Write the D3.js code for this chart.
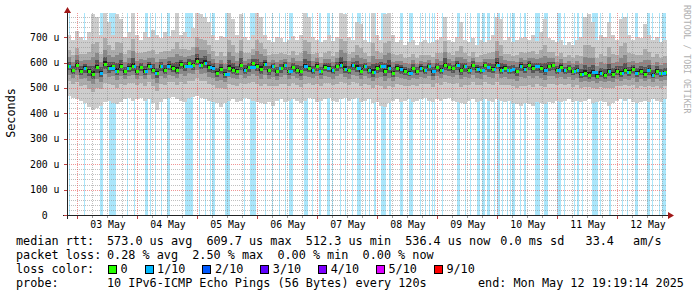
<!DOCTYPE html>
<html><head><meta charset="utf-8">
<script src="https://cdn.jsdelivr.net/npm/d3@7"></script>
<style>body{margin:0;background:#fff} svg{display:block} text{white-space:pre}</style>
</head><body><svg id="c" width="697" height="297"></svg>
<script>
// ---------- data ----------
const startTime = new Date(2025, 4, 2, 20, 0, 0);
const endTime = new Date(2025, 4, 12, 20, 0, 0);
const columnMinutes = 96;
// median rtt per column (microseconds)
const medianRtt = [
585,570,590,568, 580,565,555,582,560, 595,578,586, 568,585,565,580,588,565,
582,566,588,572,558,585,570, 588,578,570,595, 585,598,590,608,592,600,582,
578,560,575,555, 580,572,568,590,572, 582,598,585,575,595,
570,585,565,578,590,566,582,572,565, 585,578,570,588,566, 584,578,570,586,592,
576,570,590,580,568, 585,572,562,578,586,565,578,560,580,575,
568,560,578,566,580, 570,585,565,582,572, 590,582,578,592,570,
585,572,590,576,570, 590,582,576,592,572, 580,570,575,566,588,
576,592,580,585,578,570,586,590,572,584, 570,578,566,572,555,
560,550,562,548,558, 552,566,556,568,558, 570,562,575,558,568, 555,570,552,566,558,562];
// lowest ping per column (microseconds)
const minRtt = [
470,460,455,450, 440,425,415,420,430, 445,450,440, 435,445,455,460,450,455,
460,450,455,440,415,445,455, 460,465,455,450, 445,460,465,470,460,455,450,
445,440,425,440, 450,455,445,450,460, 455,450,445,440,435,
445,430,450,455,445,450,455,450,440, 450,460,455,445,450, 455,460,450,445,455,
460,450,455,460,445, 450,455,440,445,430,425,440,450,455,445,
450,455,445,450,455, 460,450,445,455,450, 455,460,450,445,440,
435,450,455,445,450, 455,450,445,455,450, 445,450,440,435,430,
440,435,430,445,440,435,445,440,450,445, 450,455,445,450,445,
450,455,440,445,450, 445,430,440,450,455, 450,455,445,440,445, 450,445,455,450,445,455];
// highest ping per column (microseconds)
const maxRtt = [
710,690,725,700, 690,720,790,780,710, 795,760,710, 790,770,700,720,795,710,
690,720,700,730,710,695,720, 705,730,795,710, 720,700,735,795,790,780,760,
710,690,705,700, 795,770,710,790,700, 690,710,795,780,710,
690,680,700,695,680,690,705,690,710, 795,780,700,690,680, 690,710,685,700,795,
790,700,690,760,750, 690,680,795,710,690,790,795,710,680,690,
670,680,690,670,680, 690,675,680,690,700, 780,690,680,700,760,
690,680,695,670,690, 680,690,710,780,770, 690,700,680,690,695,
700,690,710,685,720,770,695,690,680,690, 670,680,670,690,700,
780,790,760,690,710, 700,760,710,690,770, 780,710,690,700,695, 750,710,690,700,680,690];
// periods with 1/10 loss: [start step, length in steps], step = 24 minutes
const lossStepMinutes = 24;
const lossSteps = [[2,1],[17,1],[33,3],[42,6],[48,1],[60,1],[67,1],[78,3],[83,1],[88,1],[94,1],[100,3],
[118,8],[132,1],[138,1],[143,1],[145,3],[158,5],[177,1],[183,6],[198,1],[205,1],[212,1],[218,1],[222,4],
[237,4],[245,1],[252,2],[260,3],[265,1],[273,1],[278,1],[285,1],[290,4],[298,1],[302,1],[307,2],[314,5],
[322,2],[333,3],[342,4],[353,1],[358,1],[362,1],[365,1],[367,1],[375,1],[390,3],[398,1],[403,1],[410,3],
[415,3],[420,3],[427,1],[430,3],[435,1],[440,1],[443,1],[445,3],[453,1],[457,2],[468,5],[477,4],[490,4],
[497,1],[507,1],[510,2],[515,1],[525,6],[533,1],[542,2],[555,1],[560,1],[568,3],[580,3],[585,1],[592,1],[595,4]];
const yTickValues = [0,100,200,300,400,500,600,700];
const yTickLabels = ["0  ","100 u","200 u","300 u","400 u","500 u","600 u","700 u"];
const dayLabels = ["03 May","04 May","05 May","06 May","07 May","08 May","09 May","10 May","11 May","12 May"];
const lossLegendLabels = ["0","1/10","2/10","3/10","4/10","5/10","9/10"];
const lossLegendColors = ["#26ff00","#00b8ff","#0059ff","#5e00ff","#7e00ff","#dd00ff","#ff0000"];
const legendRtt = ["573.0 us avg","609.7 us max","512.3 us min","536.4 us now","0.0 ms sd","33.4","am/s"];
const legendLoss = ["0.28 % avg","2.50 % max","0.00 % min","0.00 % now"];
const probeText = "10 IPv6-ICMP Echo Pings (56 Bytes) every 120s";
const endText = "end: Mon May 12 19:19:14 2025";

// ---------- drawing ----------
const svg = d3.select("#c");
const mono = "'DejaVu Sans Mono', monospace";
const x = d3.scaleTime().domain([startTime, endTime]).range([67, 667]);
const y = d3.scaleLinear().domain([0, 795]).range([215, 13]);

const cols = medianRtt.map((m, i) => ({
  t0: d3.timeMinute.offset(startTime, i * columnMinutes),
  t1: d3.timeMinute.offset(startTime, (i + 1) * columnMinutes),
  med: m, lo: minRtt[i], hi: maxRtt[i]
}));

// loss background bars
const lossPeriods = lossSteps.map(([s, n]) => ({
  t0: d3.timeMinute.offset(startTime, s * lossStepMinutes),
  t1: d3.timeMinute.offset(startTime, (s + n) * lossStepMinutes),
  col: Math.floor(s * lossStepMinutes / columnMinutes)
}));
svg.append("g").selectAll("rect").data(lossPeriods).join("rect")
  .attr("x", d => x(d.t0)).attr("width", d => x(d.t1) - x(d.t0))
  .attr("y", y(795)).attr("height", y(0) - y(795))
  .attr("fill", "#aae6fb").attr("shape-rendering", "crispEdges");

// smoke
const bandFractions = [1, 0.5, 0.28, 0.14, 0.05];
const bandColors = ["#cdcdcd", "#acacac", "#888888", "#565656", "#1e1e1e"];
bandFractions.forEach((f, k) => {
  svg.append("g").selectAll("rect").data(cols).join("rect")
    .attr("x", d => x(d.t0)).attr("width", d => x(d.t1) - x(d.t0))
    .attr("y", d => y(d.med + (d.hi - d.med) * f))
    .attr("height", d => y(d.med - (d.med - d.lo) * f) - y(d.med + (d.hi - d.med) * f))
    .attr("fill", bandColors[k]).attr("shape-rendering", "crispEdges");
});

// grid
const gGrid = svg.append("g").attr("shape-rendering", "crispEdges");
const minorY = d3.range(0, 795, 20).filter(v => v % 100 !== 0);
gGrid.selectAll(".hmin").data(minorY).join("line")
  .attr("x1", 67).attr("x2", 667).attr("y1", d => Math.round(y(d)) + 0.5).attr("y2", d => Math.round(y(d)) + 0.5)
  .attr("stroke", "rgba(140,140,140,0.55)").attr("stroke-dasharray", "1,1");
const minorX = d3.timeHour.every(6).range(startTime, endTime).filter(d => d.getHours() !== 0);
gGrid.selectAll(".vmin").data(minorX).join("line")
  .attr("x1", d => Math.round(x(d)) + 0.5).attr("x2", d => Math.round(x(d)) + 0.5).attr("y1", 13).attr("y2", 215)
  .attr("stroke", "rgba(140,140,140,0.55)").attr("stroke-dasharray", "1,1");
gGrid.selectAll(".hmaj").data(yTickValues.slice(1)).join("line")
  .attr("x1", 67).attr("x2", 667).attr("y1", d => Math.round(y(d)) + 0.5).attr("y2", d => Math.round(y(d)) + 0.5)
  .attr("stroke", "rgba(230,80,80,0.6)").attr("stroke-dasharray", "1,1");
const majorX = d3.timeDay.range(d3.timeDay.ceil(startTime), endTime);
gGrid.selectAll(".vmaj").data(majorX).join("line")
  .attr("x1", d => Math.round(x(d)) + 0.5).attr("x2", d => Math.round(x(d)) + 0.5).attr("y1", 13).attr("y2", 215)
  .attr("stroke", "rgba(230,80,80,0.6)").attr("stroke-dasharray", "1,1");

// median markers
svg.append("g").selectAll("rect").data(cols).join("rect")
  .attr("x", d => x(d.t0) + 0.5).attr("width", d => x(d.t1) - x(d.t0) - 1)
  .attr("y", d => Math.round(y(d.med)) - 1).attr("height", 3)
  .attr("fill", lossLegendColors[0]).attr("shape-rendering", "crispEdges");
svg.append("g").selectAll("rect").data(lossPeriods).join("rect")
  .attr("x", d => x(d.t0)).attr("width", d => Math.max(2, x(d.t1) - x(d.t0)))
  .attr("y", d => Math.round(y(cols[d.col].med)) - 1).attr("height", 3)
  .attr("fill", lossLegendColors[1]).attr("shape-rendering", "crispEdges");

// axes
const axisCol = "#222";
svg.append("line").attr("x1", 67.5).attr("x2", 67.5).attr("y1", 12).attr("y2", 219).attr("stroke", axisCol);
svg.append("line").attr("x1", 63).attr("x2", 669).attr("y1", 215.5).attr("y2", 215.5).attr("stroke", axisCol);
svg.append("path").attr("d", "M64,13L71,13L67.5,7Z").attr("fill", "#a01818");
svg.append("path").attr("d", "M668,212L668,219L674,215.5Z").attr("fill", "#a01818");
// ticks
svg.append("g").selectAll("line").data(yTickValues).join("line")
  .attr("x1", 64).attr("x2", 67).attr("y1", d => Math.round(y(d)) + 0.5).attr("y2", d => Math.round(y(d)) + 0.5)
  .attr("stroke", "#c04040").attr("shape-rendering", "crispEdges");
svg.append("g").selectAll("line").data(majorX).join("line")
  .attr("x1", d => Math.round(x(d)) + 0.5).attr("x2", d => Math.round(x(d)) + 0.5).attr("y1", 216).attr("y2", 219)
  .attr("stroke", "#c04040").attr("shape-rendering", "crispEdges");
svg.append("g").selectAll("line").data(minorX).join("line")
  .attr("x1", d => Math.round(x(d)) + 0.5).attr("x2", d => Math.round(x(d)) + 0.5).attr("y1", 216).attr("y2", 218)
  .attr("stroke", "#999").attr("shape-rendering", "crispEdges");

// tick labels
svg.append("g").selectAll("text").data(yTickValues).join("text")
  .attr("x", 59.5).attr("y", d => y(d) + 3.5).attr("text-anchor", "end")
  .attr("font-family", mono).attr("font-size", 9.8).attr("fill", "#000")
  .text((d, i) => yTickLabels[i]);
const noonTicks = majorX.map(d => d3.timeHour.offset(d, 12));
svg.append("g").selectAll("text").data(noonTicks).join("text")
  .attr("x", d => x(d) + 1).attr("y", 228).attr("text-anchor", "middle")
  .attr("font-family", mono).attr("font-size", 9.8).attr("fill", "#000")
  .text((d, i) => dayLabels[i]);

// y label
svg.append("text").attr("transform", "translate(15,113) rotate(-90)").attr("text-anchor", "middle")
  .attr("font-family", mono).attr("font-size", 11.8).text("Seconds");
// watermark
svg.append("text").attr("transform", "translate(684,5) rotate(90)")
  .attr("font-family", mono).attr("font-size", 8.2).attr("fill", "#b0b0b0").text("RRDTOOL / TOBI OETIKER");

// legend
const cw = 7.1, lx = 16, vx = 107;
const leg = svg.append("g").attr("font-family", mono).attr("font-size", 11.8).attr("fill", "#000");
const rowY = [245, 259, 273, 287];
leg.append("text").attr("x", lx).attr("y", rowY[0]).text("median rtt:");
const rttX = [0, 14, 28, 42, 55.4, 67.4, 74.1];
legendRtt.forEach((t, i) => leg.append("text").attr("x", vx + rttX[i] * cw).attr("y", rowY[0]).text(t));
leg.append("text").attr("x", lx).attr("y", rowY[1]).text("packet loss:");
legendLoss.forEach((t, i) => leg.append("text").attr("x", vx + i * 12 * cw).attr("y", rowY[1]).text(t));
leg.append("text").attr("x", lx).attr("y", rowY[2]).text("loss color:");
let bx = 108.5;
lossLegendLabels.forEach((t, i) => {
  leg.append("rect").attr("x", bx).attr("y", 265.5).attr("width", 8).attr("height", 8)
    .attr("fill", lossLegendColors[i]).attr("stroke", "#000").attr("stroke-width", 1).attr("shape-rendering", "crispEdges");
  leg.append("text").attr("x", bx + 12).attr("y", rowY[2]).text(t);
  bx += (t.length + 4.15) * cw;
});
leg.append("text").attr("x", lx).attr("y", rowY[3]).text("probe:");
leg.append("text").attr("x", vx).attr("y", rowY[3]).text(probeText);
leg.append("text").attr("x", 478).attr("y", rowY[3]).text(endText);
</script></body></html>
